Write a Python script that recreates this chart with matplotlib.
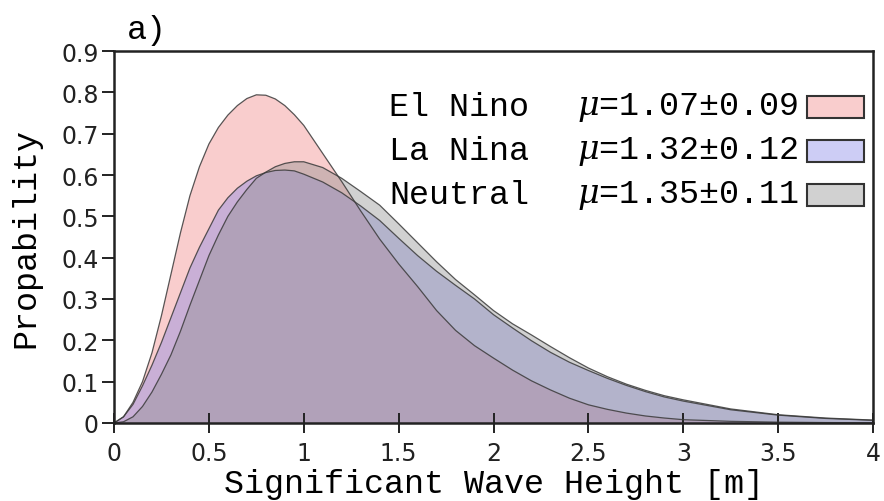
import numpy as np
import matplotlib
matplotlib.use("Agg")
import matplotlib.pyplot as plt
from matplotlib.patches import Rectangle

# wave height [m]
hs = [0.0, 0.05, 0.1, 0.15, 0.2, 0.25, 0.3, 0.35, 0.4, 0.45, 0.5,
      0.55, 0.6, 0.65, 0.7, 0.75, 0.8, 0.85, 0.9, 0.95, 1.0,
      1.1, 1.2, 1.3, 1.4, 1.5, 1.6, 1.7, 1.8, 1.9, 2.0,
      2.1, 2.2, 2.3, 2.4, 2.5, 2.6, 2.7, 2.8, 2.9, 3.0,
      3.25, 3.5, 3.75, 4.0]

el_nino = [0.0, 0.015, 0.05, 0.10, 0.17, 0.26, 0.36, 0.46, 0.55, 0.62, 0.675,
           0.715, 0.745, 0.768, 0.785, 0.794, 0.793, 0.784, 0.768, 0.746, 0.72,
           0.652, 0.584, 0.513, 0.445, 0.385, 0.33, 0.272, 0.224, 0.187, 0.157,
           0.128, 0.102, 0.08, 0.06, 0.044, 0.033, 0.024, 0.017, 0.012, 0.008,
           0.004, 0.002, 0.001, 0.0005]

la_nina = [0.0, 0.015, 0.045, 0.09, 0.14, 0.195, 0.255, 0.315, 0.375, 0.425, 0.47,
           0.515, 0.545, 0.568, 0.585, 0.598, 0.606, 0.611, 0.612, 0.61, 0.602,
           0.583, 0.557, 0.525, 0.49, 0.447, 0.405, 0.367, 0.333, 0.30, 0.262,
           0.23, 0.199, 0.171, 0.147, 0.127, 0.108, 0.091, 0.076, 0.063, 0.053,
           0.032, 0.019, 0.011, 0.0065]

neutral = [0.0, 0.003, 0.015, 0.04, 0.075, 0.118, 0.165, 0.222, 0.285, 0.345, 0.405,
           0.455, 0.50, 0.535, 0.565, 0.592, 0.607, 0.62, 0.628, 0.632, 0.632,
           0.618, 0.592, 0.56, 0.527, 0.482, 0.436, 0.39, 0.347, 0.31, 0.272,
           0.24, 0.213, 0.185, 0.158, 0.133, 0.112, 0.094, 0.079, 0.066, 0.056,
           0.034, 0.02, 0.012, 0.007]

names = ["El Nino", "La Nina", "Neutral"]
means = ["1.07\u00b10.09", "1.32\u00b10.12", "1.35\u00b10.11"]
colors = ["#f28282", "#8282e6", "#8e8e8e"]

xticks = [0, 0.5, 1, 1.5, 2, 2.5, 3, 3.5, 4]
xticklabels = ["0", "0.5", "1", "1.5", "2", "2.5", "3", "3.5", "4"]
yticks = [0, 0.1, 0.2, 0.3, 0.4, 0.5, 0.6, 0.7, 0.8, 0.9]
yticklabels = ["0", "0.1", "0.2", "0.3", "0.4", "0.5", "0.6", "0.7", "0.8", "0.9"]

plt.rcParams["mathtext.fontset"] = "dejavuserif"
mono = "Liberation Mono"

fig = plt.figure(figsize=(8.84, 5.02), dpi=100)
ax = fig.add_axes([0.129, 0.1554, 0.8586, 0.741])

for y, c in zip([el_nino, la_nina, neutral], colors):
    ax.fill_between(hs, 0, y, facecolor=c, alpha=0.4, edgecolor="none")
    ax.plot(hs, y, color="#3a3a3a", lw=0.9, alpha=0.85)

ax.set_xlim(0, 4)
ax.set_ylim(0, 0.9)
ax.set_xticks(xticks)
ax.set_xticklabels(xticklabels)
ax.set_yticks(yticks)
ax.set_yticklabels(yticklabels)
ax.tick_params(axis="x", direction="inout", length=14, width=1.4, labelsize=17, pad=6, colors="#222")
ax.tick_params(axis="y", direction="out", length=9, width=1.4, labelsize=17, pad=2, colors="#222")
for s in ax.spines.values():
    s.set_linewidth(1.8)
    s.set_color("#222")

ax.set_xlabel("Significant Wave Height [m]", family=mono, fontsize=24, labelpad=2)
ax.set_ylabel("Propability", family=mono, fontsize=24, labelpad=14)
fig.text(127 / 884, 1 - 31 / 502, "a)", family=mono, fontsize=24, va="center")

# legend built by hand
rows_y = [108, 152, 196]
for name, m, c, py in zip(names, means, colors, rows_y):
    yf = 1 - py / 502
    fig.text(389 / 884, yf, name, family=mono, fontsize=24, va="center")
    fig.text(799 / 884, yf, r"$\mu$=" + m, family=mono, fontsize=24,
             va="center", ha="right")
    fig.patches.append(Rectangle((807 / 884, yf - 11 / 502), 57 / 884, 22 / 502,
                                 transform=fig.transFigure, facecolor=c, alpha=0.4,
                                 edgecolor="none"))
    fig.patches.append(Rectangle((807 / 884, yf - 11 / 502), 57 / 884, 22 / 502,
                                 transform=fig.transFigure, facecolor="none",
                                 edgecolor="#333", lw=1.5))

fig.savefig("out.png", dpi=100)
